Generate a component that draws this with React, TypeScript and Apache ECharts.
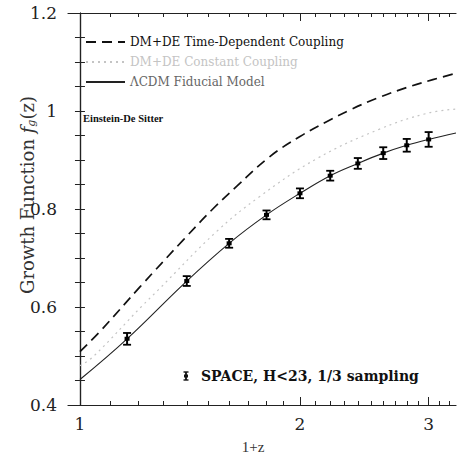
import React, { useEffect, useRef } from "react";
import * as echarts from "echarts";

// ---- data (1+z on a log axis) ----
const X_MIN = 0.963;
const X_MAX = 3.27;
const X_LABELS = [1, 2, 3];
const X_MINOR_TICKS = [1.0, 1.1, 1.2, 1.3, 1.4, 1.5, 1.6, 1.7, 1.8, 1.9, 2.0, 2.1, 2.2, 2.3, 2.4, 2.5, 2.6, 2.7, 2.8, 2.9, 3.0, 3.1, 3.2];
const Y_LABELS = [0.4, 0.6, 0.8, 1.0, 1.2];
const Y_TICKS = [0.4, 0.45, 0.5, 0.55, 0.6, 0.65, 0.7, 0.75, 0.8, 0.85, 0.9, 0.95, 1.0, 1.05, 1.1, 1.15, 1.2];

// SPACE measurements
const DATA_X = [1.16, 1.4, 1.6, 1.8, 2.0, 2.2, 2.4, 2.6, 2.8, 3.0];
const DATA_Y = [0.535, 0.653, 0.73, 0.788, 0.832, 0.868, 0.893, 0.914, 0.93, 0.942];
const DATA_ERR = [0.012, 0.01, 0.009, 0.009, 0.01, 0.01, 0.011, 0.012, 0.013, 0.015];

// ΛCDM fiducial model
const LCDM_X = [1.0, 1.16, 1.4, 1.6, 1.8, 2.0, 2.2, 2.4, 2.6, 2.8, 3.0, 3.27];
const LCDM_Y = [0.452, 0.535, 0.653, 0.73, 0.788, 0.832, 0.868, 0.893, 0.914, 0.93, 0.942, 0.955];

// DM+DE time-dependent coupling
const TDC_X = [1.0, 1.065, 1.208, 1.385, 1.522, 1.638, 1.819, 2.0, 2.175, 2.34, 2.55, 2.8, 3.04, 3.27];
const TDC_Y = [0.509, 0.55, 0.641, 0.737, 0.801, 0.846, 0.907, 0.948, 0.978, 1.002, 1.026, 1.048, 1.064, 1.077];

// DM+DE constant coupling
const CC_X = [1.0, 1.043, 1.214, 1.28, 1.538, 1.76, 2.11, 2.57, 2.98, 3.27];
const CC_Y = [0.48, 0.499, 0.601, 0.635, 0.754, 0.825, 0.903, 0.963, 0.995, 1.004];

const NAME_TDC = "DM+DE Time-Dependent Coupling";
const NAME_CC = "DM+DE Constant Coupling";
const NAME_LCDM = "ΛCDM Fiducial Model";

const SERIF = "DejaVu Serif";
const lg = (v: number) => Math.log10(v);
const pairs = (xs: number[], ys: number[]) => xs.map((x, i) => [lg(x), ys[i]]);

export default function App() {
  const ref = useRef<HTMLDivElement>(null);
  useEffect(() => {
    if (!ref.current) return;
    const chart = echarts.init(ref.current, undefined, { renderer: "svg" });
    const xCommon = {
      type: "value" as const,
      min: lg(X_MIN),
      max: lg(X_MAX),
      splitLine: { show: false },
    };
    const option: any = {
      animation: false,
      backgroundColor: "#ffffff",
      grid: { left: 68, right: 2, top: 13, bottom: 52, containLabel: false },
      xAxis: [
        {
          ...xCommon,
          position: "bottom",
          axisLine: { show: true, lineStyle: { color: "#222", width: 1.2 } },
          axisTick: { show: true, inside: true, length: 4, customValues: X_MINOR_TICKS.map(lg), lineStyle: { color: "#222" } },
          axisLabel: {
            show: true,
            customValues: X_LABELS.map(lg),
            formatter: (v: number) => String(Math.round(Math.pow(10, v))),
            fontFamily: SERIF,
            fontSize: 17,
            color: "#222",
            margin: 10,
          },
        },
        {
          ...xCommon,
          position: "bottom",
          axisLine: { show: false },
          axisTick: { show: true, inside: true, length: 8, customValues: X_LABELS.map(lg), lineStyle: { color: "#222" } },
          axisLabel: { show: false },
        },
        {
          ...xCommon,
          position: "top",
          axisLine: { show: true, lineStyle: { color: "#222", width: 1.2 } },
          axisTick: { show: true, inside: true, length: 4, customValues: X_MINOR_TICKS.map(lg), lineStyle: { color: "#222" } },
          axisLabel: { show: false },
        },
        {
          ...xCommon,
          position: "top",
          axisLine: { show: false },
          axisTick: { show: true, inside: true, length: 8, customValues: X_LABELS.map(lg), lineStyle: { color: "#222" } },
          axisLabel: { show: false },
        },
      ],
      yAxis: [
        {
          type: "value",
          min: 0.4,
          max: 1.2,
          position: "left",
          splitLine: { show: false },
          axisLine: { show: true, lineStyle: { color: "#222", width: 1.2 } },
          axisTick: { show: true, inside: true, length: 5, customValues: Y_TICKS, lineStyle: { color: "#222" } },
          axisLabel: {
            show: true,
            customValues: Y_LABELS,
            formatter: (v: number) => (Math.abs(v - 1) < 1e-9 ? "1" : v.toFixed(1)),
            fontFamily: SERIF,
            fontSize: 17,
            color: "#222",
            margin: 11,
          },
        },
        {
          type: "value",
          min: 0.4,
          max: 1.2,
          position: "right",
          splitLine: { show: false },
          axisLine: { show: true, lineStyle: { color: "#222", width: 1.2 } },
          axisTick: { show: true, inside: true, length: 5, customValues: Y_TICKS, lineStyle: { color: "#222" } },
          axisLabel: { show: false },
        },
      ],
      legend: {
        orient: "vertical",
        left: 85,
        top: 36,
        padding: 0,
        itemWidth: 39,
        itemHeight: 14,
        itemGap: 8,
        itemStyle: { color: "rgba(0,0,0,0)", borderColor: "rgba(0,0,0,0)", borderWidth: 0, opacity: 0 },
        textStyle: { fontFamily: SERIF, fontSize: 12, color: "#111" },
        data: [
          { name: NAME_TDC, textStyle: { color: "#111" } },
          { name: NAME_CC, textStyle: { color: "#c4c4c4" } },
          { name: NAME_LCDM, textStyle: { color: "#666" } },
        ],
      },
      series: [
        {
          name: NAME_TDC,
          type: "line",
          data: pairs(TDC_X, TDC_Y),
          symbol: "none",
          smooth: 0.4,
          lineStyle: { color: "#111", width: 1.7, type: [10, 6] },
          itemStyle: { color: "#111" },
        },
        {
          name: NAME_CC,
          type: "line",
          data: pairs(CC_X, CC_Y),
          symbol: "none",
          smooth: 0.4,
          lineStyle: { color: "#c4c4c4", width: 1.2, type: [2, 4] },
          itemStyle: { color: "#c4c4c4" },
        },
        {
          name: NAME_LCDM,
          type: "line",
          data: pairs(LCDM_X, LCDM_Y),
          symbol: "none",
          smooth: 0.4,
          lineStyle: { color: "#222", width: 1.1 },
          itemStyle: { color: "#222" },
        },
        {
          name: "SPACE",
          type: "custom",
          data: DATA_X.map((x, i) => [lg(x), DATA_Y[i], DATA_ERR[i]]),
          encode: { x: 0, y: 1 },
          z: 5,
          renderItem: (params: any, api: any) => {
            const x = api.value(0);
            const y = api.value(1);
            const e = api.value(2);
            const top = api.coord([x, y + e]);
            const bot = api.coord([x, y - e]);
            const c = api.coord([x, y]);
            const w = 4;
            const st = { stroke: "#000", lineWidth: 1.8 };
            return {
              type: "group",
              children: [
                { type: "line", shape: { x1: top[0], y1: top[1], x2: bot[0], y2: bot[1] }, style: { stroke: "#000", lineWidth: 2 } },
                { type: "line", shape: { x1: top[0] - w, y1: top[1], x2: top[0] + w, y2: top[1] }, style: st },
                { type: "line", shape: { x1: bot[0] - w, y1: bot[1], x2: bot[0] + w, y2: bot[1] }, style: st },
                { type: "rect", shape: { x: c[0] - 2.5, y: c[1] - 2, width: 5, height: 4 }, style: { fill: "#000" } },
              ],
            };
          },
        },
      ],
      graphic: [
        {
          type: "text",
          x: 27,
          y: 195,
          rotation: Math.PI / 2,
          style: {
            text: "{n|Growth Function }{i|f}{s|g}{n|(z)}",
            align: "center",
            verticalAlign: "middle",
            fill: "#333",
            rich: {
              n: { fontFamily: SERIF, fontSize: 18, fill: "#333" },
              i: { fontFamily: SERIF, fontSize: 18, fontStyle: "italic", fill: "#333" },
              s: { fontFamily: SERIF, fontSize: 11, fontStyle: "italic", fill: "#333", verticalAlign: "bottom", padding: [8, 0, 0, 0] },
            },
          },
        },
        {
          type: "text",
          x: 253,
          y: 447,
          style: { text: "1+z", fontFamily: "Liberation Serif", fontSize: 15, fill: "#333", align: "center", verticalAlign: "middle" },
        },
        {
          type: "text",
          x: 83,
          y: 118,
          style: { text: "Einstein-De Sitter", fontFamily: "Liberation Serif", fontWeight: "bold", fontSize: 10.5, fill: "#111", align: "left", verticalAlign: "middle" },
        },
        {
          type: "group",
          x: 186,
          y: 376,
          children: [
            { type: "line", shape: { x1: 0, y1: -4, x2: 0, y2: 4 }, style: { stroke: "#111", lineWidth: 1.8 } },
            { type: "line", shape: { x1: -2.5, y1: -4, x2: 2.5, y2: -4 }, style: { stroke: "#111", lineWidth: 1.4 } },
            { type: "line", shape: { x1: -2.5, y1: 4, x2: 2.5, y2: 4 }, style: { stroke: "#111", lineWidth: 1.4 } },
            { type: "rect", shape: { x: -2, y: -1.5, width: 4, height: 3 }, style: { fill: "#111" } },
          ],
        },
        {
          type: "text",
          x: 201,
          y: 376,
          style: { text: "SPACE, H<23, 1/3 sampling", fontFamily: SERIF, fontWeight: "bold", fontSize: 14, fill: "#111", align: "left", verticalAlign: "middle" },
        },
      ],
    };
    chart.setOption(option);
    return () => chart.dispose();
  }, []);
  return <div ref={ref} style={{ width: 458, height: 457, position: "absolute", left: 0, top: 0 }} />;
}
